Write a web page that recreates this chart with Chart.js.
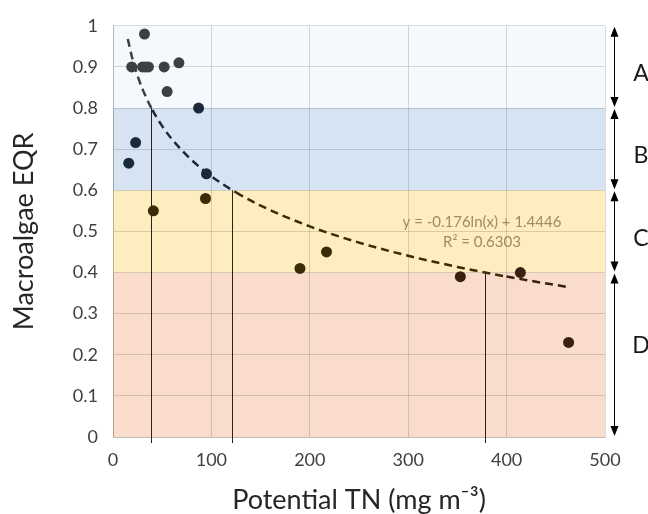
<!DOCTYPE html>
<html lang="en">

<head>
    <meta charset="UTF-8">
    <title>Macroalgae EQR vs potential TN</title>
    <script src="https://cdn.jsdelivr.net/npm/chart.js@4.4.1/dist/chart.umd.min.js"></script>
    <style>
        body { margin: 0; background: #fff; }
        #wrap { width: 648px; height: 514px; }
    </style>
</head>

<body>
    <div id="wrap"><canvas id="chart"></canvas></div>
    <script>
        // sites: potential TN (mg m-3) and macroalgae EQR
        var tnValues  = [32, 19, 30, 33, 36, 52, 67, 55, 87, 23, 16, 95, 94, 41, 190, 217, 353, 414, 463];
        var eqrValues = [0.98, 0.90, 0.90, 0.90, 0.90, 0.90, 0.91, 0.84, 0.80, 0.716, 0.666, 0.64, 0.58, 0.55, 0.41, 0.45, 0.39, 0.40, 0.23];

        // log trendline y = a ln(x) + b
        var trendA = -0.176;
        var trendB = 1.4446;
        var trendR2 = 0.6303;
        var trendXs = [15, 20, 25, 30, 40, 50, 60, 80, 100, 125, 150, 200, 250, 300, 350, 400, 465];

        // quality classes
        var classNames = ['A', 'B', 'C', 'D'];
        var classTop = [1, 0.8, 0.6, 0.4];
        var classBottom = [0.8, 0.6, 0.4, 0];
        var classFill = ['#f5f8fc', '#d5e3f3', '#feedbf', '#f9dccb'];
        var classInk = ['#3d3f42', '#1b2a3b', '#3b2b07', '#3a1e0e'];
        var boundaries = [0.8, 0.6, 0.4];

        var xTicks = [0, 100, 200, 300, 400, 500];
        var yTicks = [0, 0.1, 0.2, 0.3, 0.4, 0.5, 0.6, 0.7, 0.8, 0.9, 1];

        function inkFor(y) {
            for (var i = 0; i < classTop.length; i++) {
                if (y > classBottom[i]) return classInk[i];
            }
            return classInk[classInk.length - 1];
        }

        var points = tnValues.map((x, i) => ({ x: x, y: eqrValues[i] }));
        var trend = trendXs.map(x => ({ x: x, y: trendA * Math.log(x) + trendB }));
        var crossings = boundaries.map(t => Math.exp((trendB - t) / -trendA));

        const bands = {
            id: 'bands',
            beforeDraw(chart) {
                const { ctx, chartArea: a, scales: { y } } = chart;
                ctx.save();
                classNames.forEach((n, i) => {
                    const t = y.getPixelForValue(classTop[i]);
                    const b = y.getPixelForValue(classBottom[i]);
                    ctx.fillStyle = classFill[i];
                    ctx.fillRect(a.left, t, a.right - a.left, b - t);
                });
                ctx.restore();
            },
            beforeDatasetsDraw(chart) {
                // drop lines where the trend crosses each class boundary
                const { ctx, chartArea: a, scales: { x, y } } = chart;
                ctx.save();
                ctx.lineWidth = 1;
                ctx.strokeStyle = '#2a2318';
                crossings.forEach((cx, i) => {
                    const px = Math.round(x.getPixelForValue(cx)) + 0.5;
                    const top = y.getPixelForValue(boundaries[i]);
                    ctx.beginPath();
                    ctx.moveTo(px, top);
                    ctx.lineTo(px, a.bottom + 6);
                    ctx.stroke();
                });
                ctx.restore();
            },
            afterDraw(chart) {
                const { ctx, chartArea: a, scales: { x, y } } = chart;
                ctx.save();
                // equation label
                ctx.fillStyle = '#a08c5c';
                ctx.font = '15px Lato';
                ctx.textAlign = 'center';
                ctx.textBaseline = 'middle';
                ctx.fillText('y = ' + trendA + 'ln(x) + ' + trendB, x.getPixelForValue(375), y.getPixelForValue(0.523));
                ctx.fillText('R² = ' + trendR2, x.getPixelForValue(375), y.getPixelForValue(0.473));

                // class arrows and letters
                const ax = a.right + 9.5;
                ctx.strokeStyle = '#000';
                ctx.fillStyle = '#000';
                ctx.lineWidth = 1;
                classNames.forEach((n, i) => {
                    const t = y.getPixelForValue(classTop[i]) + 1;
                    const b = y.getPixelForValue(classBottom[i]) - 1;
                    ctx.beginPath();
                    ctx.moveTo(ax, t + 4);
                    ctx.lineTo(ax, b - 4);
                    ctx.stroke();
                    ctx.beginPath();
                    ctx.moveTo(ax, t);
                    ctx.lineTo(ax - 4, t + 10);
                    ctx.lineTo(ax + 4, t + 10);
                    ctx.closePath();
                    ctx.fill();
                    ctx.beginPath();
                    ctx.moveTo(ax, b);
                    ctx.lineTo(ax - 4, b - 10);
                    ctx.lineTo(ax + 4, b - 10);
                    ctx.closePath();
                    ctx.fill();
                });
                ctx.fillStyle = '#1a1a1a';
                ctx.font = '23px Lato';
                const labelY = [0.883, 0.684, 0.483, 0.223];
                classNames.forEach((n, i) => {
                    ctx.fillText(n, a.right + 36, y.getPixelForValue(labelY[i]));
                });
                ctx.restore();
            }
        };

        const ctx = document.getElementById('chart').getContext('2d');
        const myChart = new Chart(ctx, {
            type: 'scatter',
            data: {
                datasets: [{
                    label: 'EQR',
                    data: points,
                    pointRadius: 5.5,
                    pointHoverRadius: 5.5,
                    borderWidth: 0,
                    backgroundColor: c => inkFor(c.raw ? c.raw.y : 1),
                    order: 1
                }, {
                    label: 'Trend',
                    type: 'line',
                    data: trend,
                    cubicInterpolationMode: 'monotone',
                    pointRadius: 0,
                    borderWidth: 2.5,
                    borderDash: [8, 5],
                    borderColor: '#222',
                    segment: {
                        borderColor: s => inkFor((s.p0.parsed.y + s.p1.parsed.y) / 2)
                    },
                    fill: false,
                    order: 2
                }]
            },
            options: {
                responsive: true,
                maintainAspectRatio: false,
                animation: false,
                events: [],
                layout: { padding: { top: 25, right: 43, left: 0, bottom: 0 } },
                plugins: { legend: { display: false }, tooltip: { enabled: false } },
                scales: {
                    x: {
                        type: 'linear',
                        min: 0,
                        max: 500,
                        afterBuildTicks: s => { s.ticks = xTicks.map(v => ({ value: v })); },
                        afterFit: s => { s.height = 77; },
                        grid: { color: 'rgba(0,0,0,0.14)', drawTicks: false },
                        border: { color: 'rgba(0,0,0,0.14)' },
                        ticks: { color: '#404040', font: { family: 'Lato', size: 18 }, padding: 12 },
                        title: {
                            display: true,
                            text: 'Potential TN (mg m⁻³)',
                            color: '#262626',
                            font: { family: 'Lato', size: 27 },
                            padding: { top: 0, bottom: -2 }
                        }
                    },
                    y: {
                        type: 'linear',
                        min: 0,
                        max: 1,
                        afterBuildTicks: s => { s.ticks = yTicks.map(v => ({ value: v })); },
                        afterFit: s => { s.width = 113; },
                        grid: { color: 'rgba(0,0,0,0.14)', drawTicks: false },
                        border: { color: 'rgba(0,0,0,0.14)' },
                        ticks: {
                            color: '#404040',
                            font: { family: 'Lato', size: 18 },
                            padding: 15,
                            callback: v => String(Math.round(v * 10) / 10)
                        },
                        title: {
                            display: true,
                            text: 'Macroalgae EQR',
                            color: '#262626',
                            font: { family: 'Lato', size: 27 },
                            padding: { top: 8, bottom: 0 }
                        }
                    }
                }
            },
            plugins: [bands]
        });
    </script>
</body>

</html>
